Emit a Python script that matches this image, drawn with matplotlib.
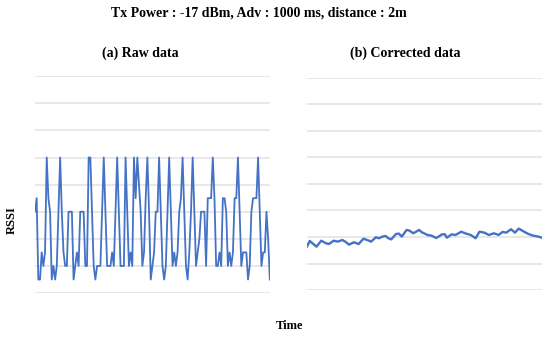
import matplotlib
matplotlib.use('Agg')
import matplotlib.pyplot as plt
import numpy as np

# raw RSSI samples (dBm)
raw_rssi = [-64, -63, -69, -69, -67, -68, -67, -60, -63, -64, -69, -68, -69, -68, -64,
            -60, -64, -67, -68, -68, -64, -64, -64, -69, -68, -67, -68, -64, -64, -64,
            -68, -68, -60, -60, -64, -68, -69, -68, -68, -68, -64, -60, -64, -68, -68,
            -68, -67, -68, -64, -60, -64, -68, -68, -68, -60, -64, -68, -67, -68, -60,
            -63, -60, -62, -64, -68, -67, -63, -60, -64, -69, -68, -67, -64, -64, -60,
            -64, -68, -69, -68, -64, -60, -64, -68, -67, -68, -67, -64, -63, -60, -64,
            -68, -69, -67, -64, -60, -64, -68, -67, -66, -64, -64, -64, -68, -63, -63,
            -63, -60, -63, -68, -68, -67, -68, -63, -63, -64, -68, -67, -68, -67, -63,
            -63, -60, -64, -68, -67, -67, -67, -69, -68, -64, -63, -63, -63, -60, -64,
            -68, -67, -67, -64, -66, -69]
raw_time = np.arange(len(raw_rssi))

# corrected RSSI, panel (b)
corr_time = [0, 3, 5, 10, 15, 20, 23, 28, 32, 37, 40, 44, 49, 54, 59, 63, 67, 72, 75, 79,
             82, 85, 88, 93, 96, 99, 104, 107, 111, 117, 120, 126, 130, 135, 141, 144, 146,
             151, 155, 161, 165, 171, 176, 180, 185, 190, 195, 200, 204, 208, 213, 217,
             221, 227, 231, 236, 240, 245]
corr_rssi = [-66.73, -66.30, -66.43, -66.73, -66.28, -66.48, -66.53, -66.28, -66.35,
             -66.23, -66.35, -66.58, -66.40, -66.53, -66.13, -66.23, -66.35, -66.02,
             -66.10, -65.97, -65.92, -66.10, -66.18, -65.77, -65.75, -65.97, -65.47,
             -65.52, -65.72, -65.47, -65.65, -65.85, -65.90, -66.08, -65.80, -65.80,
             -66.05, -65.80, -65.85, -65.60, -65.72, -65.85, -66.10, -65.60, -65.67,
             -65.85, -65.72, -65.85, -65.62, -65.67, -65.42, -65.67, -65.37, -65.62,
             -65.77, -65.90, -65.95, -66.05]

grid_levels = np.arange(-70, -53, 2)

plt.rcParams['font.family'] = ['Liberation Serif', 'DejaVu Serif']
line_col = '#4472C4'
grid_col = '#e2e2e2'

fig = plt.figure(figsize=(5.5, 3.4), dpi=100)
ax1 = fig.add_axes([0.0636, 0.138, 0.427, 0.638])
ax2 = fig.add_axes([0.558, 0.147, 0.427, 0.624])

for ax in (ax1, ax2):
    ax.set_ylim(-70, -54)
    ax.set_yticks(grid_levels)
    ax.grid(axis='y', color=grid_col, linewidth=1.1)
    ax.set_axisbelow(True)
    ax.tick_params(left=False, bottom=False, labelleft=False, labelbottom=False)
    for s in ax.spines.values():
        s.set_visible(False)

ax1.plot(raw_time, raw_rssi, color=line_col, linewidth=1.3)
ax1.set_xlim(raw_time[0], raw_time[-1])
ax2.plot(corr_time, corr_rssi, color=line_col, linewidth=1.7)
ax2.set_xlim(corr_time[0], corr_time[-1])

fig.text(0.471, 0.961, 'Tx Power : -17 dBm, Adv : 1000 ms, distance : 2m',
         ha='center', va='center', fontsize=10, fontweight='bold')
fig.text(0.255, 0.843, '(a) Raw data', ha='center', va='center',
         fontsize=10, fontweight='bold')
fig.text(0.737, 0.843, '(b) Corrected data', ha='center', va='center',
         fontsize=10, fontweight='bold')
fig.text(0.022, 0.353, 'RSSI', ha='center', va='center', rotation=90,
         fontsize=9, fontweight='bold')
fig.text(0.527, 0.04, 'Time', ha='center', va='center',
         fontsize=9, fontweight='bold')

fig.savefig('out.png', dpi=100)
